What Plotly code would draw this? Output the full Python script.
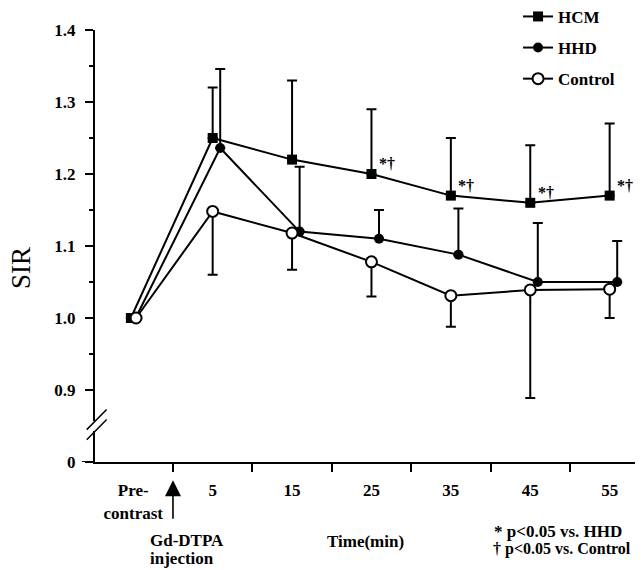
import plotly.graph_objects as go

# ---- data ----
time_min = [-5, 5, 15, 25, 35, 45, 55]
tick_labels = ["Pre-<br>contrast", "5", "15", "25", "35", "45", "55"]

hcm_mean = [1.00, 1.25, 1.22, 1.20, 1.17, 1.16, 1.17]
hcm_err_up = [None, 0.07, 0.11, 0.09, 0.08, 0.08, 0.10]

hhd_mean = [1.00, 1.236, 1.12, 1.11, 1.088, 1.05, 1.05]
hhd_err_up = [None, 0.11, 0.09, 0.04, 0.064, 0.082, 0.057]

ctrl_mean = [1.00, 1.148, 1.118, 1.078, 1.031, 1.039, 1.04]
ctrl_err_down = [None, 0.088, 0.051, 0.048, 0.043, 0.15, 0.04]

sig_times = [25, 35, 45, 55]
sig_text = "*†"

y_tickvals = [0.8, 0.9, 1.0, 1.1, 1.2, 1.3, 1.4]
y_ticktext = ["0", "0.9", "1.0", "1.1", "1.2", "1.3", "1.4"]
y_minor = [0.95, 1.05, 1.15, 1.25, 1.35]
x_ticks = [0, 10, 20, 30, 40, 50]

# ---- style ----
FONT = "Liberation Serif"
BLACK = "black"


def shifted(xs, dx, dx_pre):
    return [x + (dx_pre if i == 0 else dx) for i, x in enumerate(xs)]


def zeros_like(a):
    return [None if v is None else 0 for v in a]


fig = go.Figure()

fig.add_trace(go.Scatter(
    x=shifted(time_min, 0.0, -0.3), y=hcm_mean, name="HCM", mode="lines+markers",
    line=dict(color=BLACK, width=2),
    marker=dict(symbol="square", size=10, color=BLACK),
    error_y=dict(type="data", symmetric=False, array=hcm_err_up,
                 arrayminus=zeros_like(hcm_err_up), color=BLACK, thickness=2, width=5),
    legendgroup="a", legendrank=1,
))
fig.add_trace(go.Scatter(
    x=shifted(time_min, 0.95, 0.3), y=hhd_mean, name="HHD", mode="lines+markers",
    line=dict(color=BLACK, width=2),
    marker=dict(symbol="circle", size=10, color=BLACK),
    error_y=dict(type="data", symmetric=False, array=hhd_err_up,
                 arrayminus=zeros_like(hhd_err_up), color=BLACK, thickness=2, width=5),
    legendgroup="b", legendrank=2,
))
fig.add_trace(go.Scatter(
    x=shifted(time_min, 0.0, 0.35), y=ctrl_mean, name="Control", mode="lines+markers",
    line=dict(color=BLACK, width=2),
    marker=dict(symbol="circle", size=11, color="white", line=dict(color=BLACK, width=2)),
    error_y=dict(type="data", symmetric=False, array=zeros_like(ctrl_err_down),
                 arrayminus=ctrl_err_down, color=BLACK, thickness=2, width=5),
    legendgroup="c", legendrank=3,
))

bold17 = dict(family=FONT, size=17, color=BLACK, weight="bold")
bold16 = dict(family=FONT, size=16, color=BLACK, weight="bold")

annotations = []
for t in sig_times:
    v = hcm_mean[time_min.index(t)]
    annotations.append(dict(x=t + 0.7, y=v + 0.014, xref="x", yref="y", text=sig_text,
                            showarrow=False, xanchor="left", yanchor="middle",
                            font=dict(family=FONT, size=16, color=BLACK, weight="bold")))

annotations += [
    dict(x=-0.135, y=0.449, xref="paper", yref="paper", text="SIR", textangle=-90,
         xanchor="center", yanchor="middle",
         showarrow=False, font=dict(family=FONT, size=27, color=BLACK)),
    dict(x=0, y=-0.042, xref="x", yref="paper", text="", showarrow=True,
         ax=0, ay=40, arrowhead=2, arrowsize=2, arrowwidth=1.6, arrowcolor=BLACK),
    dict(x=-3.2, y=-0.182, xref="x", yref="paper", text="Gd-DTPA",
         showarrow=False, xanchor="left", yanchor="middle", font=bold17),
    dict(x=-3.2, y=-0.223, xref="x", yref="paper", text="injection",
         showarrow=False, xanchor="left", yanchor="middle", font=bold17),
    dict(x=24.2, y=-0.185, xref="x", yref="paper", text="Time(min)",
         showarrow=False, xanchor="center", yanchor="middle", font=bold17),
    dict(x=40.2, y=-0.16, xref="x", yref="paper", text="* p<0.05 vs. HHD",
         showarrow=False, xanchor="left", yanchor="middle", font=bold17),
    dict(x=40.0, y=-0.201, xref="x", yref="paper", text="† p<0.05 vs. Control",
         showarrow=False, xanchor="left", yanchor="middle", font=bold16),
]

shapes = [
    dict(type="line", xref="paper", yref="y", x0=0, x1=0, y0=0.843, y1=0.857,
         line=dict(color="white", width=4), layer="above"),
    dict(type="line", xref="paper", yref="y", x0=-0.0151, x1=0.0213, y0=0.845, y1=0.873,
         line=dict(color=BLACK, width=1.5), layer="above"),
    dict(type="line", xref="paper", yref="y", x0=-0.0151, x1=0.0213, y0=0.831, y1=0.859,
         line=dict(color=BLACK, width=1.5), layer="above"),
    dict(type="line", xref="paper", yref="y", x0=-0.024, x1=0, y0=0.8, y1=0.8,
         line=dict(color=BLACK, width=2), layer="above"),
]

fig.update_layout(
    width=635, height=562,
    margin=dict(l=87, r=0, t=22, b=108, autoexpand=False),
    paper_bgcolor="white", plot_bgcolor="white",
    font=dict(family=FONT, color=BLACK),
    showlegend=True,
    legend=dict(x=0.772, y=1.072, xanchor="left", yanchor="top",
                bgcolor="rgba(0,0,0,0)", borderwidth=0, tracegroupgap=6,
                itemwidth=30, font=bold17),
    xaxis=dict(range=[-9.82, 59.2], showgrid=False, zeroline=False,
               showline=True, linecolor=BLACK, linewidth=2,
               tickmode="array", tickvals=time_min, ticktext=tick_labels,
               ticks="", ticklabelstandoff=12, tickfont=bold17, automargin=False,
               minor=dict(tickmode="array", tickvals=x_ticks, ticks="outside",
                          ticklen=8, tickwidth=2, tickcolor=BLACK, showgrid=False)),
    yaxis=dict(range=[0.8, 1.4], showgrid=False, zeroline=False,
               showline=True, linecolor=BLACK, linewidth=2,
               tickmode="array", tickvals=y_tickvals, ticktext=y_ticktext,
               ticks="outside", ticklen=8, tickwidth=2, tickcolor=BLACK,
               ticklabelstandoff=6, tickfont=bold17, automargin=False,
               minor=dict(tickmode="array", tickvals=y_minor, ticks="outside",
                          ticklen=4, tickwidth=1.5, tickcolor=BLACK, showgrid=False)),
    annotations=annotations,
    shapes=shapes,
)

fig.write_html("out.html")
